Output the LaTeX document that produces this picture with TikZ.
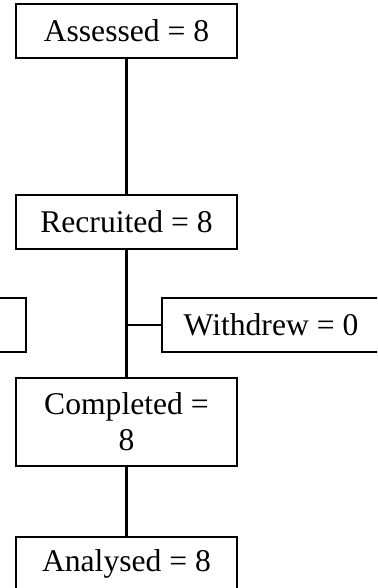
\documentclass[tikz,border=0pt]{standalone}
\usepackage{fontspec}
\setmainfont{Liberation Serif}
\usepackage{tikz}
\usetikzlibrary{positioning}

\begin{document}
\begin{tikzpicture}[
    line width=1.2pt,
    font=\fontsize{18}{20.6}\selectfont,
    fbox/.style={draw=black, minimum width=4.42cm, minimum height=1.08cm,
                 inner sep=0pt, align=center},
]
  % page frame (boxes at the edges are cut off)
  \clip (0,0) rectangle (7.54,-11.76);
  % Main column
  \node[fbox] (assessed) at (2.53,-0.62) {Assessed = 8};
  \node[fbox] (recruited) at (2.53,-4.44) {Recruited = 8};
  \node[fbox, minimum height=1.76cm] (completed) at (2.53,-8.44) {Completed =\\8};
  \node[fbox] (analysed) at (2.53,-11.28) {Analysed = 8};
  % Side boxes
  \node[fbox] (excluded) at (-1.69,-6.5) {};
  \node[fbox, minimum width=4.36cm] (withdrew) at (5.42,-6.5) {Withdrew = 0};
  % Connectors
  \coordinate (split) at (recruited.south |- withdrew.west);
  \draw (assessed) -- (recruited);
  \draw (recruited) -- (completed);
  \draw (split) -- (withdrew.west);
  \draw (completed) -- (analysed);
\end{tikzpicture}
\end{document}
